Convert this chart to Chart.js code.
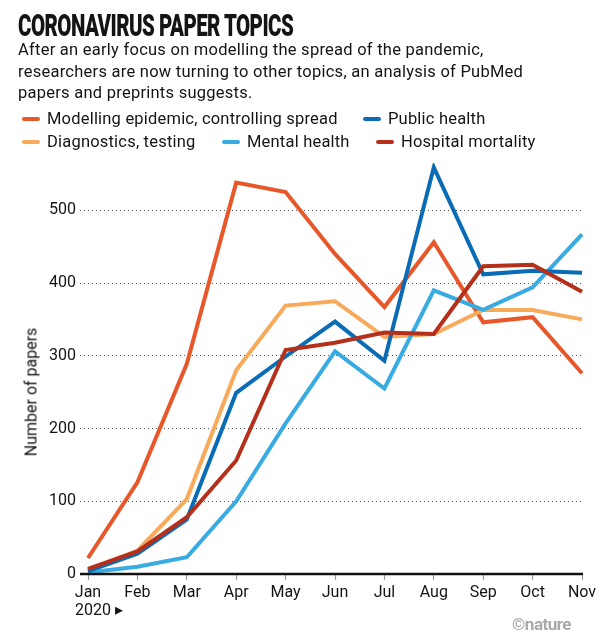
<!DOCTYPE html>
<html><head><meta charset="utf-8">
<script src="https://cdn.jsdelivr.net/npm/chart.js@4.4.1/dist/chart.umd.min.js"></script>
<style>
body{margin:0;background:#fff;}
#wrap{position:relative;width:600px;height:637px;overflow:hidden;font-family:Roboto,"Liberation Sans",sans-serif;color:#141414;}
#c{position:absolute;left:0;top:0;}
.t{position:absolute;white-space:nowrap;}
#title{left:18px;top:7px;font-family:Roboto,"Liberation Sans",sans-serif;font-weight:900;font-size:31px;letter-spacing:-0.8px;transform:scaleX(0.66);transform-origin:0 0;}
#sub{left:18px;top:39px;font-size:16.5px;letter-spacing:0.25px;line-height:21.5px;}
.lg{position:absolute;font-size:16.5px;letter-spacing:0.2px;line-height:20px;white-space:nowrap;}
.sw{display:inline-block;width:18px;height:4px;border-radius:2px;vertical-align:middle;margin-right:7px;position:relative;top:-1px;}
#ytitle{left:31px;top:392px;font-size:16px;transform:translate(-50%,-50%) rotate(-90deg);}
#yr{left:75px;top:600px;font-size:16px;}
#nat{left:512px;top:614px;font-size:17px;color:#a9a9a9;font-weight:bold;letter-spacing:-0.5px;}
</style></head>
<body>
<div id="wrap">
<canvas id="c" width="600" height="637"></canvas>
<div class="t" id="title">CORONAVIRUS PAPER TOPICS</div>
<div class="t" id="sub">After an early focus on modelling the spread of the pandemic,<br>researchers are now turning to other topics, an analysis of PubMed<br>papers and preprints suggests.</div>
<div id="legend"></div>
<div class="t" id="ytitle">Number of papers</div>
<div class="t" id="yr">2020 ▸</div>
<div class="t" id="nat">©nature</div>
</div>
<script>
const months = ['Jan','Feb','Mar','Apr','May','Jun','Jul','Aug','Sep','Oct','Nov'];
const yTicks = [0,100,200,300,400,500];
const seriesNames = ['Modelling epidemic, controlling spread','Public health','Diagnostics, testing','Mental health','Hospital mortality'];
const modelling   = [22,126,289,538,525,440,367,456,346,353,276];
const publicHealth= [4,28,75,249,299,347,293,559,412,417,414];
const diagnostics = [5,32,103,280,369,375,326,330,363,363,350];
const mentalHealth= [2,10,23,100,207,306,255,390,363,394,467];
const hospital    = [7,31,78,156,308,318,332,330,423,425,388];

const colors = ['#e8572a','#0a6cb4','#f8aa5b','#37abe2','#b5301a'];
const seriesData = [modelling, publicHealth, diagnostics, mentalHealth, hospital];
const drawOrder = [5,2,4,3,1]; // lower = on top
const legendPos = [[22,109],[363,109],[22,132],[222,132],[376,132]];

const lg = document.getElementById('legend');
seriesNames.forEach((n,i)=>{
  const d=document.createElement('div');d.className='lg';
  d.style.left=legendPos[i][0]+'px';d.style.top=legendPos[i][1]+'px';
  d.innerHTML='<span class="sw" style="background:'+colors[i]+'"></span>'+n;
  lg.appendChild(d);
});

const baseline = {
  id:'baseline',
  afterDatasetsDraw(chart){
    const {ctx, chartArea, scales} = chart;
    const y0 = scales.y.getPixelForValue(0);
    ctx.save();
    ctx.strokeStyle='#111';ctx.lineWidth=2.5;
    ctx.beginPath();ctx.moveTo(chartArea.left-8,y0);ctx.lineTo(chartArea.right+1,y0);ctx.stroke();
    ctx.restore();
  }
};

new Chart(document.getElementById('c'),{
  type:'line',
  data:{
    labels:months,
    datasets:seriesNames.map((n,i)=>({
      label:n,data:seriesData[i],borderColor:colors[i],backgroundColor:colors[i],
      borderWidth:4,pointRadius:0,tension:0,order:drawOrder[i],
      borderJoinStyle:'miter',borderCapStyle:'butt'
    }))
  },
  plugins:[baseline],
  options:{
    responsive:false,animation:false,devicePixelRatio:1,
    layout:{padding:{top:163,right:18,bottom:0,left:0}},
    plugins:{legend:{display:false},tooltip:{enabled:false}},
    scales:{
      x:{
        offset:false,
        grid:{drawOnChartArea:false,drawTicks:true,tickLength:6,tickColor:'#9a9a9a',tickWidth:1.2},
        border:{display:false},
        ticks:{color:'#141414',font:{family:'Roboto',size:16},padding:3,maxRotation:0,autoSkip:false},
        afterFit(s){s.height=63;}
      },
      y:{
        min:0,max:565,
        afterBuildTicks(s){s.ticks=yTicks.map(v=>({value:v}));},
        grid:{color:(c)=>c.tick && c.tick.value===0?'rgba(0,0,0,0)':'#555',lineWidth:1,tickLength:8,tickColor:(c)=>c.tick && c.tick.value===0?'rgba(0,0,0,0)':'#555',tickBorderDash:[1,3],tickWidth:1},
        border:{display:false,dash:[1,3]},
        ticks:{color:'#141414',font:{family:'Roboto',size:16},padding:4},
        afterFit(s){s.width=88;}
      }
    }
  }
});
</script>
</body></html>
